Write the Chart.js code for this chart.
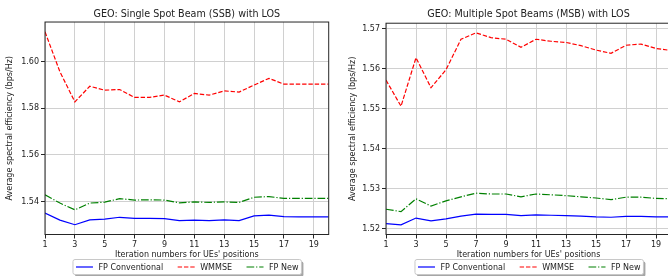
<!DOCTYPE html>
<html>
<head>
<meta charset="utf-8">
<script src="https://cdn.jsdelivr.net/npm/chart.js@4.4.1/dist/chart.umd.min.js"></script>
<style>
  html, body { margin: 0; padding: 0; background: #fff; overflow: hidden; width: 668px; height: 276px; }
  canvas { position: absolute; top: 0; }
</style>
</head>
<body>
<canvas id="c1" width="334" height="276" style="left:0px"></canvas>
<canvas id="c2" width="340" height="276" style="left:334px"></canvas>
<script>
// ---- data ----
const iterations = [1, 2, 3, 4, 5, 6, 7, 8, 9, 10, 11, 12, 13, 14, 15, 16, 17, 18, 19, 20];
const xTickValues = [1, 3, 5, 7, 9, 11, 13, 15, 17, 19];
const seriesNames = ['FP Conventional', 'WMMSE', 'FP New'];

// Single Spot Beam (SSB)
const fpConvSSB = [1.5350, 1.5320, 1.5300, 1.5321, 1.5324, 1.5332, 1.5327, 1.5327, 1.5326, 1.5318, 1.5320, 1.5318, 1.5321, 1.5318, 1.5338, 1.5341, 1.5335, 1.5334, 1.5334, 1.5334];
const wmmseSSB  = [1.6129, 1.5957, 1.5828, 1.5895, 1.5878, 1.5881, 1.5847, 1.5847, 1.5857, 1.5828, 1.5864, 1.5857, 1.5875, 1.5870, 1.5900, 1.5929, 1.5904, 1.5904, 1.5904, 1.5904];
const fpNewSSB  = [1.5429, 1.5393, 1.5364, 1.5393, 1.5397, 1.5412, 1.5406, 1.5407, 1.5406, 1.5394, 1.5398, 1.5396, 1.5398, 1.5396, 1.5418, 1.5421, 1.5413, 1.5413, 1.5413, 1.5413];
const yTicksSSB = [1.54, 1.56, 1.58, 1.60];

// Multiple Spot Beams (MSB)
const fpConvMSB = [1.5213, 1.5210, 1.5227, 1.5220, 1.5225, 1.5232, 1.5237, 1.5236, 1.5236, 1.5233, 1.5235, 1.5234, 1.5233, 1.5232, 1.5230, 1.5229, 1.5231, 1.5231, 1.5230, 1.5230];
const wmmseMSB  = [1.5571, 1.5506, 1.5627, 1.5552, 1.5597, 1.5673, 1.5689, 1.5677, 1.5673, 1.5653, 1.5673, 1.5668, 1.5665, 1.5657, 1.5646, 1.5638, 1.5658, 1.5661, 1.5650, 1.5645];
const fpNewMSB  = [1.5249, 1.5243, 1.5275, 1.5257, 1.5270, 1.5280, 1.5289, 1.5287, 1.5287, 1.5280, 1.5287, 1.5285, 1.5283, 1.5280, 1.5277, 1.5273, 1.5279, 1.5279, 1.5276, 1.5275];
const yTicksMSB = [1.52, 1.53, 1.54, 1.55, 1.56, 1.57];

// ---- styling ----
const FONT = "'DejaVu Sans', 'Liberation Sans', sans-serif";
const TXT = '#222';
const styles = [
  { color: '#0000ff', dash: [] },
  { color: '#ff0000', dash: [4.4, 1.9] },
  { color: '#008000', dash: [7.7, 1.9, 1.2, 1.9] }
];

const framePlugin = {
  id: 'frameLegend',
  afterDraw(chart, args, opts) {
    const ctx = chart.ctx;
    const a = chart.chartArea;
    ctx.save();
    ctx.strokeStyle = '#262626';
    ctx.lineWidth = 1;
    ctx.setLineDash([]);
    ctx.strokeRect(a.left, a.top, a.right - a.left, a.bottom - a.top);

    // legend
    ctx.font = '8px ' + FONT;
    const pad = 3, handle = 17, textPad = 5.5, colSp = 14.5;
    const widths = seriesNames.map(n => ctx.measureText(n).width);
    let total = pad * 2;
    widths.forEach((w, i) => { total += handle + textPad + w + (i < widths.length - 1 ? colSp : 0); });
    const bx = opts.cx - total / 2, by = 259.5, bh = 15;
    // shadow
    ctx.fillStyle = 'rgba(0,0,0,0.35)';
    roundRect(ctx, bx + 2, by + 2, total, bh, 2); ctx.fill();
    ctx.fillStyle = '#fff';
    roundRect(ctx, bx, by, total, bh, 2); ctx.fill();
    ctx.strokeStyle = '#c8c8c8';
    roundRect(ctx, bx, by, total, bh, 2); ctx.stroke();
    let x = bx + pad;
    const cy = by + bh / 2;
    ctx.textBaseline = 'middle';
    ctx.textAlign = 'left';
    seriesNames.forEach((n, i) => {
      ctx.strokeStyle = styles[i].color;
      ctx.lineWidth = 1.2;
      ctx.setLineDash(styles[i].dash);
      ctx.beginPath(); ctx.moveTo(x, cy); ctx.lineTo(x + handle, cy); ctx.stroke();
      ctx.setLineDash([]);
      ctx.fillStyle = TXT;
      ctx.fillText(n, x + handle + textPad, cy + 0.5);
      x += handle + textPad + widths[i] + colSp;
    });
    ctx.restore();
  }
};
function roundRect(ctx, x, y, w, h, r) {
  ctx.beginPath();
  ctx.moveTo(x + r, y);
  ctx.lineTo(x + w - r, y); ctx.quadraticCurveTo(x + w, y, x + w, y + r);
  ctx.lineTo(x + w, y + h - r); ctx.quadraticCurveTo(x + w, y + h, x + w - r, y + h);
  ctx.lineTo(x + r, y + h); ctx.quadraticCurveTo(x, y + h, x, y + h - r);
  ctx.lineTo(x, y + r); ctx.quadraticCurveTo(x, y, x + r, y);
  ctx.closePath();
}

function makeChart(id, cfg) {
  const datasets = [cfg.conv, cfg.wmmse, cfg.fpnew].map((vals, i) => ({
    label: seriesNames[i],
    data: iterations.map((it, k) => ({ x: it, y: vals[k] })),
    borderColor: styles[i].color,
    borderDash: styles[i].dash,
    borderWidth: 1.2,
    pointRadius: 0,
    tension: 0,
    fill: false
  }));
  return new Chart(document.getElementById(id), {
    type: 'line',
    data: { datasets },
    plugins: [framePlugin],
    options: {
      responsive: false,
      animation: false,
      devicePixelRatio: 1,
      layout: { padding: { left: 0, right: cfg.padRight, top: 0, bottom: 16.5 } },
      plugins: {
        legend: { display: false },
        tooltip: { enabled: false },
        title: {
          display: true, text: cfg.title, color: TXT, fullSize: false,
          font: { family: FONT, size: 9.6, weight: 'normal' },
          padding: { top: 9.2, bottom: cfg.titleBottom }
        },
        frameLegend: { cx: cfg.legendCx }
      },
      scales: {
        x: {
          type: 'linear', min: 1, max: 20,
          afterBuildTicks: s => { s.ticks = xTickValues.map(v => ({ value: v })); },
          afterFit: s => { s.height = 25; },
          grid: { color: '#d0d0d0', lineWidth: 1, tickColor: '#262626', tickLength: 4, drawTicks: true },
          border: { display: false },
          ticks: { color: TXT, font: { family: FONT, size: 8 }, padding: 2, maxRotation: 0, autoSkip: false },
          title: { display: true, text: "Iteration numbers for UEs' positions", color: TXT,
                   font: { family: FONT, size: 8 }, padding: { top: 0, bottom: 0 } }
        },
        y: {
          type: 'linear', min: cfg.ymin, max: cfg.ymax,
          afterBuildTicks: s => { s.ticks = cfg.yTicks.map(v => ({ value: v })); },
          afterFit: s => { s.width = cfg.yWidth; },
          grid: { color: '#d0d0d0', lineWidth: 1, tickColor: '#262626', tickLength: 4, drawTicks: true },
          border: { display: false },
          ticks: { color: TXT, font: { family: FONT, size: 8 }, padding: 2, callback: v => v.toFixed(2) },
          title: { display: true, text: 'Average spectral efficiency (bps/Hz)', color: TXT,
                   font: { family: FONT, size: 8 }, padding: { top: cfg.yTitlePad, bottom: 0 } }
        }
      }
    }
  });
}

makeChart('c1', {
  title: 'GEO: Single Spot Beam (SSB) with LOS',
  conv: fpConvSSB, wmmse: wmmseSSB, fpnew: fpNewSSB,
  ymin: 1.5258, ymax: 1.6171, yTicks: yTicksSSB,
  yWidth: 45, padRight: 5.3, titleBottom: 1.3, yTitlePad: 5.2, legendCx: 187.2
});
makeChart('c2', {
  title: 'GEO: Multiple Spot Beams (MSB) with LOS',
  conv: fpConvMSB, wmmse: wmmseMSB, fpnew: fpNewMSB,
  ymin: 1.5186, ymax: 1.5713, yTicks: yTicksMSB,
  yWidth: 52, padRight: 3, titleBottom: 2.5, yTitlePad: 14.2, legendCx: 195.2
});
</script>
</body>
</html>
